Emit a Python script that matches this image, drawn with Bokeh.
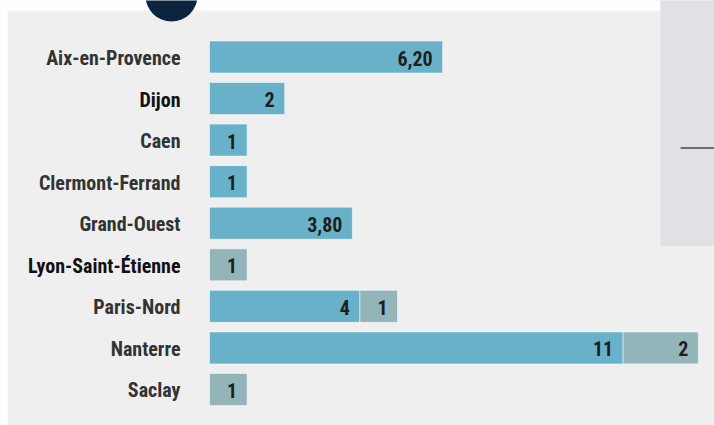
from bokeh.plotting import figure
from bokeh.models import Range1d, ColumnDataSource
from bokeh.core.properties import value
from bokeh.embed import file_html
from bokeh.resources import INLINE

# ---- data ----
cities = ["Aix-en-Provence", "Dijon", "Caen", "Clermont-Ferrand", "Grand-Ouest",
          "Lyon-Saint-Étienne", "Paris-Nord", "Nanterre", "Saclay"]
series_a = [6.20, 2, 1, 1, 3.80, 0, 4, 11, 0]
series_b = [0, 0, 0, 0, 0, 1, 1, 2, 1]
emphasized = ["Dijon", "Lyon-Saint-Étienne"]

# ---- styles ----
W, H = 714, 425
PANEL = "#efefef"
BLUE = "#69b1c8"
GREY = "#93b5ba"
FONT = "Liberation Sans Narrow, Roboto Condensed, Roboto"

SX = 37.6          # px per unit
X_ORIGIN = 209     # px of value 0
PITCH = 41.56      # px per row
ROW0 = 56.5        # px of first row centre

x_range = Range1d(-X_ORIGIN / SX, (W - X_ORIGIN) / SX)
y_range = Range1d((H - ROW0) / PITCH, -ROW0 / PITCH)

p = figure(width=W, height=H, x_range=x_range, y_range=y_range,
           output_backend="svg", toolbar_location=None, min_border=0,
           background_fill_color=PANEL, border_fill_color=PANEL)
p.axis.visible = False
p.grid.visible = False
p.outline_line_color = None

def dx(px):
    return x_range.start + px / SX

def dy(py):
    return y_range.end + py / PITCH

# decorations
p.quad(left=[dx(-5)], right=[dx(660)], top=[dy(-5)], bottom=[dy(10)],
       fill_color="white", line_color=None)
p.quad(left=[dx(-5)], right=[dx(7)], top=[dy(-5)], bottom=[dy(H + 5)],
       fill_color="white", line_color=None)
p.quad(left=[dx(660)], right=[dx(W + 5)], top=[dy(-5)], bottom=[dy(245.6)],
       fill_color="#e1e1e5", line_color=None)
p.segment(x0=[dx(680)], x1=[dx(W + 5)], y0=[dy(147.5)], y1=[dy(147.5)],
          line_color="#6f6f6f", line_width=2)
p.scatter(x=[dx(171)], y=[dy(-5)], size=52, marker="circle",
          fill_color="#0c243e", line_color=None)

# bars
rows = list(range(len(cities)))
a_src = ColumnDataSource(dict(
    y=[r for r, v in zip(rows, series_a) if v > 0],
    left=[0 for v in series_a if v > 0],
    right=[v for v in series_a if v > 0],
))
b_src = ColumnDataSource(dict(
    y=[r for r, v in zip(rows, series_b) if v > 0],
    left=[a for a, v in zip(series_a, series_b) if v > 0],
    right=[a + v for a, v in zip(series_a, series_b) if v > 0],
))
bar_h = 32 / PITCH
p.hbar(y="y", left="left", right="right", height=bar_h, source=a_src,
       fill_color=BLUE, line_color="white", line_alpha=0.5, line_width=1)
p.hbar(y="y", left="left", right="right", height=bar_h, source=b_src,
       fill_color=GREY, line_color="white", line_alpha=0.5, line_width=1)

def fmt(v):
    return str(int(v)) if float(v).is_integer() else f"{v:.2f}".replace(".", ",")

# value labels
vx, vy, vt = [], [], []
for r, a, b in zip(rows, series_a, series_b):
    if a > 0:
        vx.append(a); vy.append(r); vt.append(fmt(a))
    if b > 0:
        vx.append(a + b); vy.append(r); vt.append(fmt(b))
p.text(x=vx, y=vy, text=vt, x_offset=-10, y_offset=1, text_align="right",
       text_baseline="middle", text_font=value(FONT), text_font_style="bold",
       text_font_size="20px", text_color="#1e1e1e")

# category labels
colors = ["#111111" if c in emphasized else "#333333" for c in cities]
p.text(x=[0] * len(cities), y=rows, text=cities, x_offset=-29, y_offset=1,
       text_align="right", text_baseline="middle", text_font=value(FONT),
       text_font_style="bold", text_font_size="20px", text_color=colors)

open("out.html", "w").write(file_html(p, INLINE))
